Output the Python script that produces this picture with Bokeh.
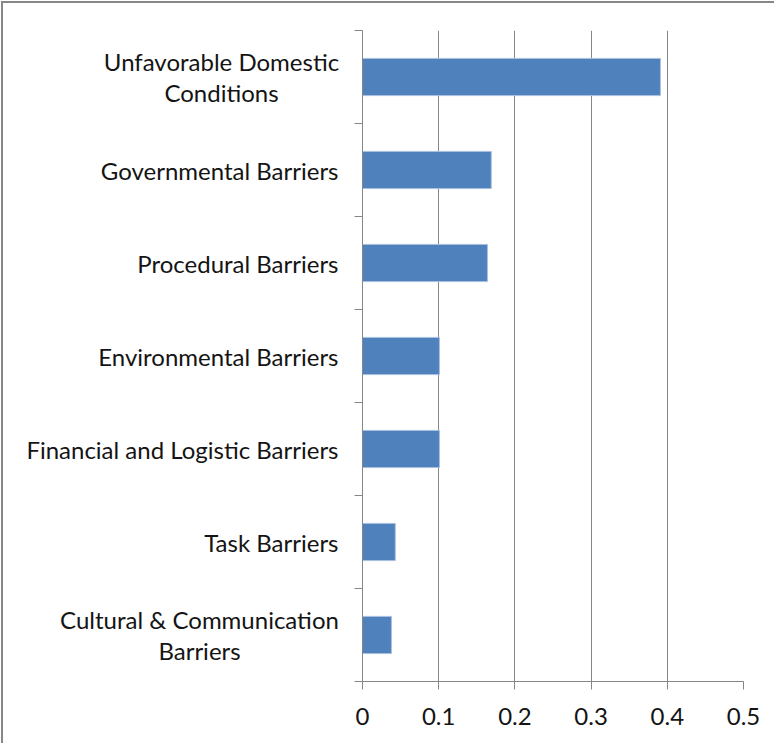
from bokeh.plotting import figure
from bokeh.models import Range1d, FixedTicker, ColumnDataSource
from bokeh.core.properties import value
from bokeh.embed import file_html
from bokeh.resources import INLINE

# Data (top to bottom as displayed)
categories = ["Unfavorable Domestic\nConditions", "Governmental Barriers", "Procedural Barriers",
              "Environmental Barriers", "Financial and Logistic Barriers", "Task Barriers",
              "Cultural & Communication\nBarriers"]
values = [0.391, 0.169, 0.164, 0.101, 0.101, 0.043, 0.038]
x_ticks = [0, 0.1, 0.2, 0.3, 0.4, 0.5]
x_tick_labels = ["0", "0.1", "0.2", "0.3", "0.4", "0.5"]

n = len(categories)
ypos = [n - i - 0.5 for i in range(n)]

FONT = "Lato"
FSIZE = "24px"
GREY = "#868686"
TXT = "#141414"

p = figure(width=773, height=742, output_backend="svg", toolbar_location=None,
           x_range=Range1d(0, 0.5), y_range=Range1d(0, n),
           min_border_left=359, min_border_right=33, min_border_top=27, min_border_bottom=64)
p.styles = {"border-left": "2px solid #878787", "border-top": "2px solid #878787",
            "margin-left": "1px", "margin-top": "1px"}
p.outline_line_color = None
p.background_fill_color = "white"
p.border_fill_color = "white"

p.hbar(y=ypos, right=values, left=0, height=0.4, fill_color="#4F81BD",
       line_color="#a9c0de", line_width=1)

# x axis
xa = p.xaxis[0]
xa.ticker = FixedTicker(ticks=x_ticks, minor_ticks=[])
xa.major_label_overrides = {t: l for t, l in zip(x_ticks, x_tick_labels)}
xa.axis_line_color = GREY
xa.major_tick_line_color = GREY
xa.major_tick_out = 8
xa.major_tick_in = 0
xa.minor_tick_line_color = None
xa.major_label_standoff = 18
xa.major_label_text_font = FONT
xa.major_label_text_font_size = FSIZE
xa.major_label_text_color = TXT

# y axis: single-line labels on the axis, multi-line (centred) labels as text glyphs
single = {y: c for y, c in zip(ypos, categories) if "\n" not in c}
multi_y = [y for y, c in zip(ypos, categories) if "\n" in c]
multi_t = [c for c in categories if "\n" in c]
multi_off = [-141, -163]  # label block centre offset from axis (px)

ya = p.yaxis[0]
ya.ticker = FixedTicker(ticks=ypos, minor_ticks=list(range(n + 1)))
ya.major_label_overrides = {y: single.get(y, "") for y in ypos}
ya.axis_line_color = GREY
ya.major_tick_line_color = None
ya.major_tick_out = 0
ya.major_tick_in = 0
ya.minor_tick_line_color = GREY
ya.minor_tick_out = 8
ya.minor_tick_in = 0
ya.major_label_standoff = 16
ya.major_label_text_font = FONT
ya.major_label_text_font_size = FSIZE
ya.major_label_text_color = TXT

src = ColumnDataSource(dict(x=[0] * len(multi_y), y=multi_y, t=multi_t, xo=multi_off))
txt = p.text(x="x", y="y", text="t", x_offset="xo", source=src,
             text_align="center", text_baseline="middle",
             text_font=value(FONT), text_font_size=FSIZE, text_color=TXT,
             text_line_height=1.08)
txt.level = "overlay"

p.xgrid.grid_line_color = GREY
p.xgrid.ticker = FixedTicker(ticks=x_ticks)
p.ygrid.grid_line_color = None

open("out.html", "w").write(file_html(p, INLINE))
